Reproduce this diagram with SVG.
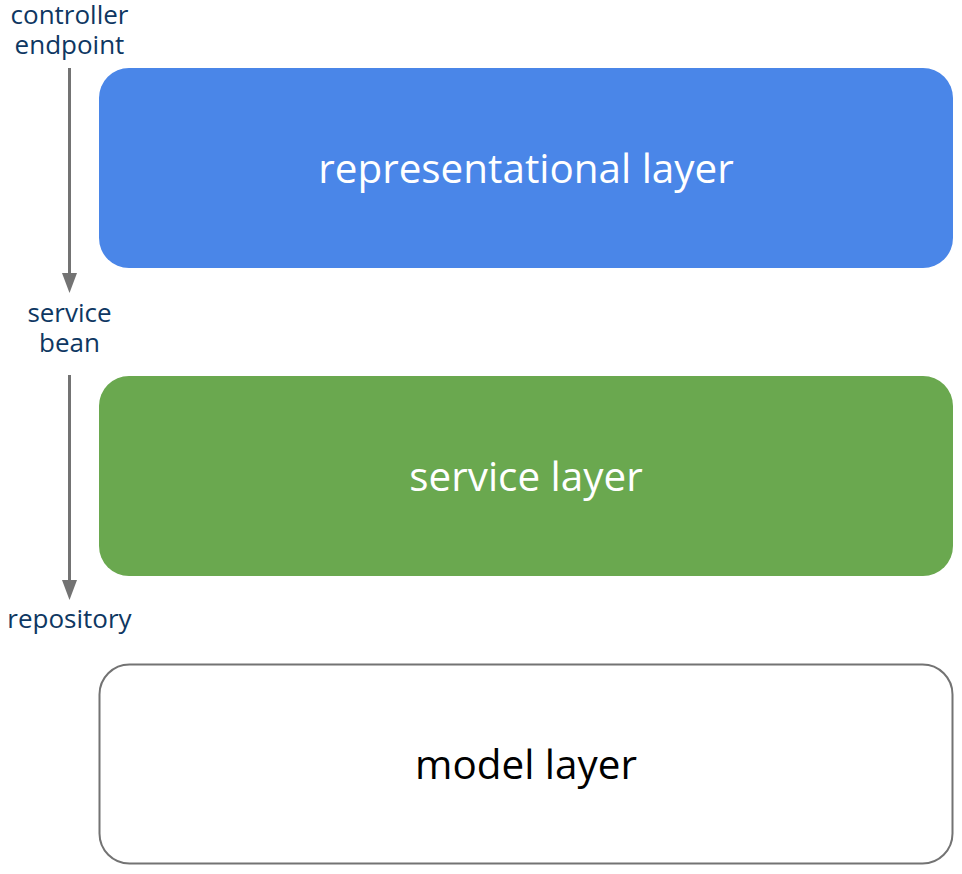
<svg xmlns="http://www.w3.org/2000/svg" width="962" height="874" viewBox="0 0 962 874">
<defs>
<style>
.lbl{font-family:"Open Sans","Noto Sans",sans-serif;font-size:26px;fill:#0e3762;text-anchor:middle}
.box{font-family:"Open Sans","Noto Sans",sans-serif;font-size:40.4px;text-anchor:middle}
.conn{stroke:#737373;stroke-width:3;fill:none}
</style>
</defs>
<rect width="962" height="874" fill="#ffffff"/>
<g id="connectors">
<line class="conn" x1="69.5" y1="68" x2="69.5" y2="275"/>
<path d="M62,273 L77,273 L69.5,293 z" fill="#737373"/>
<line class="conn" x1="69.5" y1="375" x2="69.5" y2="582"/>
<path d="M62,580 L77,580 L69.5,600 z" fill="#737373"/>
</g>
<g id="label-controller">
<text class="lbl" x="69.5" y="24">controller</text>
<text class="lbl" x="69.5" y="54">endpoint</text>
</g>
<g id="label-service">
<text class="lbl" x="69.5" y="322">service</text>
<text class="lbl" x="69.5" y="352">bean</text>
</g>
<g id="label-repository">
<text class="lbl" x="69.5" y="628">repository</text>
</g>
<g id="representational-layer">
<rect x="99" y="68" width="854" height="200" rx="30" fill="#4a86e8"/>
<text class="box" x="526" y="183" fill="#ffffff">representational layer</text>
</g>
<g id="service-layer">
<rect x="99" y="376" width="854" height="200" rx="30" fill="#6aa84f"/>
<text class="box" x="526" y="491" fill="#ffffff">service layer</text>
</g>
<g id="model-layer">
<rect x="99.5" y="664.5" width="853" height="199" rx="30" fill="#ffffff" stroke="#737373" stroke-width="2"/>
<text class="box" x="526" y="779" fill="#000000">model layer</text>
</g>
</svg>
